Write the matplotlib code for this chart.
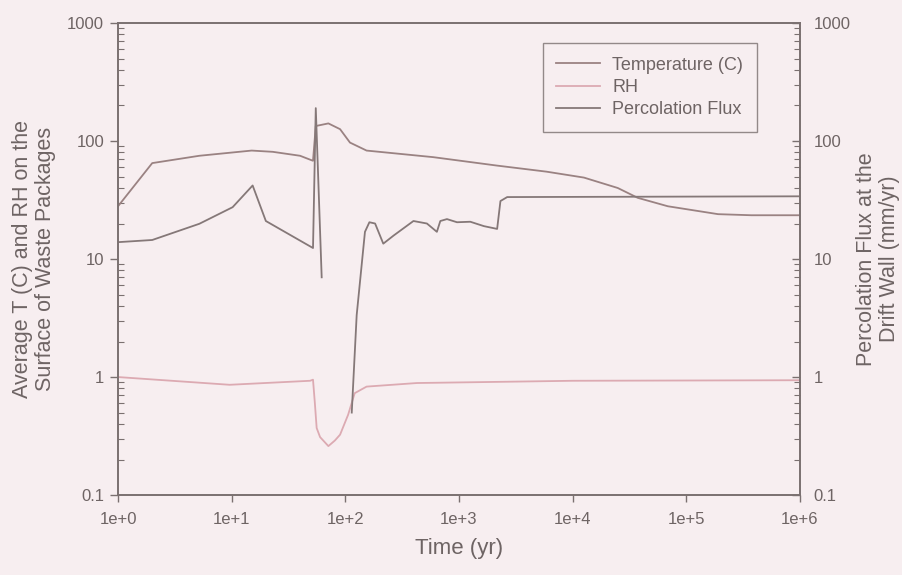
import numpy as np
import matplotlib
matplotlib.use("Agg")
import matplotlib.pyplot as plt
from matplotlib.ticker import FixedLocator, FixedFormatter, NullLocator, LogLocator

# values (time in years)
temp_t = [1, 2, 5.2, 15, 23, 40, 52, 55, 71, 90, 110, 154, 594, 2140, 5900,
          12600, 25000, 37500, 69000, 191000, 375000, 1e6]
temp_v = [28, 65, 75, 83, 81, 75, 68, 134, 141, 126, 97, 83, 73, 62, 55,
          49, 40, 33, 28, 24, 23.5, 23.5]

rh_t = [1, 9.6, 49, 52, 54, 56, 60, 71, 81, 90, 106, 121, 154, 427, 2140, 10000, 1e6]
rh_v = [1.0, 0.86, 0.93, 0.95, 0.6, 0.37, 0.31, 0.26, 0.29, 0.325, 0.48, 0.73,
        0.83, 0.89, 0.91, 0.93, 0.94]

# flux is zero during dry-out (not shown on the log axis)
flux_t = [1, 2, 5.2, 10.2, 15.3, 20, 52, 55, 62, 63, 113, 114, 126, 149, 163,
          183, 216, 266, 398, 523, 640, 686, 785, 962, 1260, 1660, 2170, 2320,
          2660, 1e6]
flux_v = [13.9, 14.5, 19.9, 27.5, 42, 21, 12.4, 190, 7.0, 0.0, 0.0, 0.5, 3.35,
          17, 20.5, 20, 13.5, 15.8, 21, 20, 17, 21, 21.8, 20.5, 20.7, 19, 18,
          31, 33.5, 34]

x_ticks = [1, 10, 100, 1000, 1e4, 1e5, 1e6]
x_labels = ["1e+0", "1e+1", "1e+2", "1e+3", "1e+4", "1e+5", "1e+6"]
y_ticks = [0.1, 1, 10, 100, 1000]
y_labels = ["0.1", "1", "10", "100", "1000"]

bg = "#f7eef0"
ink = "#6e6464"
axis_col = "#7a7070"

plt.rcParams["font.family"] = ["Liberation Sans", "DejaVu Sans"]

fig = plt.figure(figsize=(9.03, 5.75), dpi=100, facecolor=bg)
ax = fig.add_axes([0.1307, 0.139, 0.755, 0.821])
ax.set_facecolor(bg)
ax2 = ax.twinx()

ax.plot(temp_t, temp_v, color="#9a8282", lw=1.3, label="Temperature (C)")
ax.plot(rh_t, rh_v, color="#dcaab2", lw=1.3, label="RH")
ax2.plot(flux_t, flux_v, color="#857878", lw=1.3, label="Percolation Flux")

for a in (ax, ax2):
    a.set_xscale("log")
    a.set_yscale("log", nonpositive="mask")
    a.set_xlim(1, 1e6)
    a.set_ylim(0.1, 1000)
    a.yaxis.set_major_locator(FixedLocator(y_ticks))
    a.yaxis.set_major_formatter(FixedFormatter(y_labels))
    a.yaxis.set_minor_locator(LogLocator(base=10, subs=np.arange(2, 10)))
    for s in a.spines.values():
        s.set_color(axis_col)
        s.set_linewidth(1.2)

ax.xaxis.set_major_locator(FixedLocator(x_ticks))
ax.xaxis.set_major_formatter(FixedFormatter(x_labels))
ax.xaxis.set_minor_locator(NullLocator())

ax.tick_params(axis="x", which="major", direction="out", length=5, width=1,
               color=axis_col, labelcolor=ink, labelsize=12, pad=7)
ax.tick_params(axis="y", which="major", direction="out", length=6, width=1,
               color=axis_col, labelcolor=ink, labelsize=12, pad=4)
ax.tick_params(axis="y", which="minor", direction="in", length=4, width=0.8,
               color=axis_col)
ax2.tick_params(axis="y", which="major", direction="in", length=6, width=1,
                color=axis_col, labelcolor=ink, labelsize=12, pad=10)
ax2.tick_params(axis="y", which="minor", direction="in", length=4, width=0.8,
                color=axis_col)

ax.set_xlabel("Time (yr)", fontsize=16, color=ink, labelpad=8)
ax.set_ylabel("Average T (C) and RH on the\nSurface of Waste Packages",
              fontsize=15.5, color=ink, labelpad=8, linespacing=1.1)
ax2.set_ylabel("Percolation Flux at the\nDrift Wall (mm/yr)",
               fontsize=15.5, color=ink, labelpad=4, linespacing=1.1)

h1, l1 = ax.get_legend_handles_labels()
h2, l2 = ax2.get_legend_handles_labels()
leg = fig.legend(h1 + h2, l1 + l2, loc="upper left",
                 bbox_to_anchor=(0.601, 0.925), fontsize=13, frameon=True,
                 fancybox=False, edgecolor=axis_col, facecolor=bg,
                 handlelength=2.4, handletextpad=0.7, labelspacing=0.3,
                 borderpad=0.75, borderaxespad=0)
leg.get_frame().set_linewidth(1.0)
for t in leg.get_texts():
    t.set_color(ink)

fig.savefig("out.png", dpi=100, facecolor=bg)
